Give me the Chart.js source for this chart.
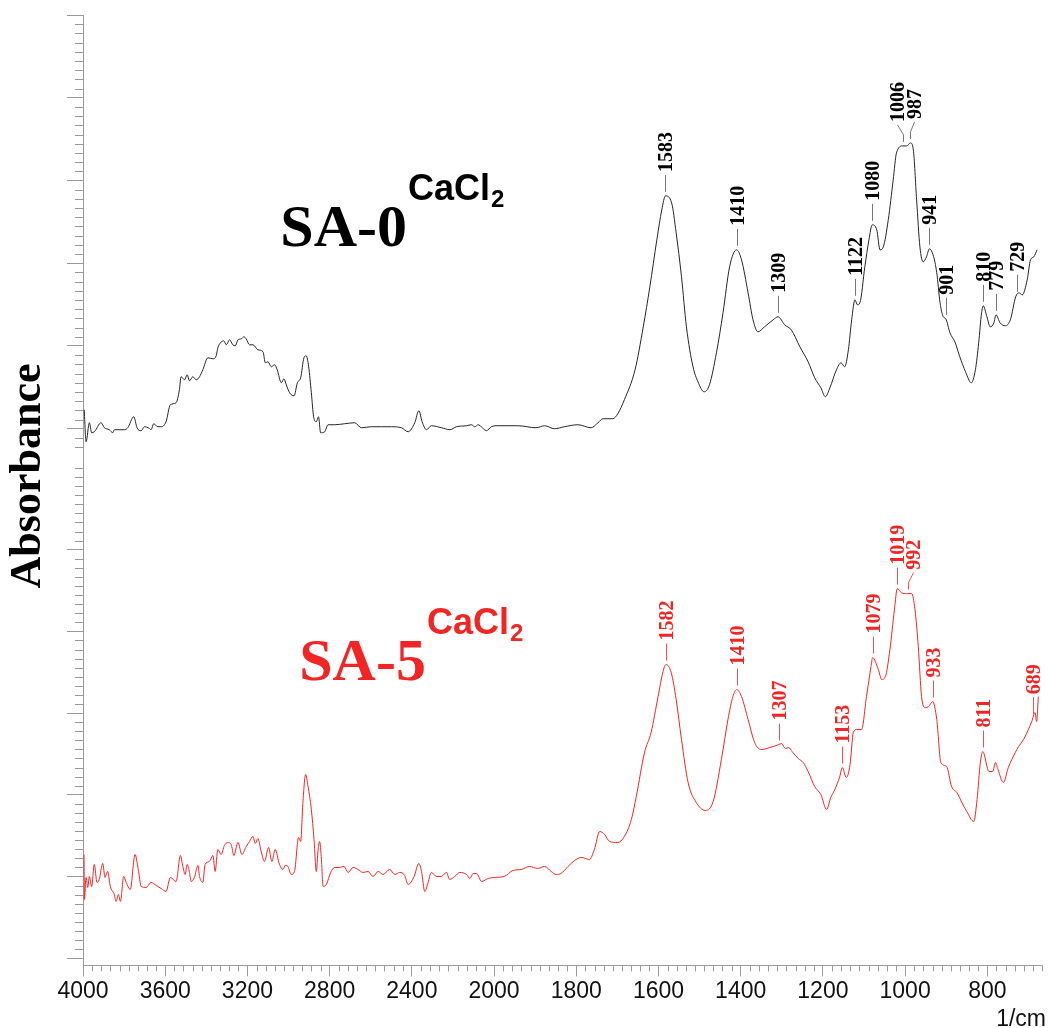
<!DOCTYPE html>
<html>
<head>
<meta charset="utf-8">
<title>FTIR SA-0 / SA-5 CaCl2</title>
<script src="https://cdn.jsdelivr.net/npm/chart.js@4.4.1/dist/chart.umd.min.js"></script>
<style>
  html, body { margin: 0; padding: 0; background: #fff; }
  canvas { display: block; }
</style>
</head>
<body>
<canvas id="ftir" width="1050" height="1028"></canvas>
<script>
// ---- spectra: wavenumber (1/cm) and absorbance (a.u.) ----
const sa0Wn = [3994, 3985, 3969, 3958, 3945, 3912, 3896, 3872, 3855, 3848, 3799, 3782, 3753, 3737, 3717, 3701, 3682, 3669, 3656, 3636,
  3620, 3596, 3575, 3547, 3531, 3523, 3506, 3493, 3482, 3466, 3449, 3433, 3417, 3392, 3368, 3352, 3344, 3331, 3315, 3303,
  3287, 3271, 3259, 3246, 3230, 3217, 3206, 3190, 3173, 3149, 3124, 3113, 3100, 3084, 3068, 3055, 3035, 3022, 3011, 2995,
  2973, 2957, 2941, 2925, 2914, 2902, 2889, 2878, 2865, 2854, 2844, 2824, 2808, 2776, 2727, 2678, 2646, 2597, 2548, 2499,
  2451, 2418, 2386, 2366, 2350, 2329, 2305, 2256, 2215, 2183, 2134, 2110, 2094, 2077, 2037, 2013, 1995, 1942, 1898, 1877,
  1853, 1829, 1796, 1764, 1747, 1735, 1711, 1699, 1683, 1657, 1637, 1621, 1604, 1592, 1583, 1568, 1557, 1544, 1532, 1516,
  1504, 1489, 1476, 1459, 1443, 1427, 1410, 1398, 1382, 1370, 1358, 1342, 1321, 1309, 1293, 1277, 1256, 1236, 1220, 1205,
  1194, 1183, 1167, 1156, 1147, 1138, 1130, 1122, 1116, 1110, 1098, 1088, 1080, 1069, 1061, 1053, 1041, 1029, 1021, 1006,
  996, 987, 980, 972, 964, 956, 948, 941, 932, 923, 915, 907, 901, 891, 879, 867, 853, 839, 829, 821,
  814, 810, 801, 793, 784, 779, 769, 756, 744, 731, 723, 715, 703, 695, 687, 679];
const sa0Abs = [0.19, -0.13, 0.06, -0.04, -0.03, 0.06, 0.01, -0.01, -0.04, -0.01, -0.01, 0.01, 0.12, 0.01, -0.02, 0.02, 0.01, -0.01, 0.05, 0.02,
  0.02, 0.07, 0.24, 0.26, 0.39, 0.52, 0.49, 0.54, 0.48, 0.52, 0.49, 0.52, 0.59, 0.71, 0.70, 0.73, 0.81, 0.86, 0.88, 0.84,
  0.89, 0.84, 0.83, 0.89, 0.90, 0.92, 0.90, 0.84, 0.84, 0.79, 0.77, 0.66, 0.67, 0.62, 0.64, 0.59, 0.46, 0.50, 0.44, 0.36,
  0.33, 0.46, 0.51, 0.71, 0.73, 0.62, 0.36, 0.12, 0.07, 0.12, -0.04, -0.03, 0.04, 0.04, 0.05, 0.06, 0.01, 0.02, 0.02, 0.02,
  0.01, -0.03, 0.06, 0.18, 0.07, -0.01, 0.03, 0.01, -0.01, 0.02, 0.03, 0.04, 0.02, 0.04, -0.02, 0.02, 0.03, 0.03, 0.01, 0.03,
  0.00, 0.02, 0.04, 0.01, 0.06, 0.10, 0.10, 0.15, 0.29, 0.59, 1.02, 1.42, 1.89, 2.19, 2.33, 2.26, 1.96, 1.52, 1.02, 0.62,
  0.47, 0.37, 0.44, 0.76, 1.16, 1.62, 1.79, 1.69, 1.36, 1.09, 0.97, 1.02, 1.09, 1.12, 1.04, 0.99, 0.82, 0.67, 0.51, 0.41,
  0.32, 0.41, 0.59, 0.66, 0.62, 0.79, 1.09, 1.29, 1.24, 1.26, 1.62, 1.89, 2.04, 1.99, 1.79, 1.82, 2.09, 2.49, 2.76, 2.83,
  2.83, 2.86, 2.79, 2.29, 1.82, 1.67, 1.72, 1.80, 1.74, 1.56, 1.26, 1.12, 1.10, 0.96, 0.87, 0.72, 0.57, 0.46, 0.59, 0.86,
  1.16, 1.23, 1.12, 1.02, 1.06, 1.14, 1.06, 1.03, 1.09, 1.32, 1.36, 1.34, 1.49, 1.69, 1.72, 1.79];

const sa5Wn = [3995, 3993, 3985, 3977, 3969, 3958, 3945, 3932, 3921, 3904, 3893, 3880, 3867, 3848, 3839, 3828, 3818, 3802, 3790, 3770,
  3747, 3731, 3717, 3693, 3669, 3644, 3620, 3596, 3575, 3547, 3526, 3514, 3503, 3493, 3482, 3474, 3458, 3441, 3433, 3417,
  3406, 3385, 3368, 3357, 3344, 3328, 3312, 3295, 3279, 3266, 3246, 3227, 3206, 3190, 3173, 3162, 3149, 3133, 3117, 3097,
  3081, 3065, 3044, 3027, 3016, 3003, 2987, 2971, 2951, 2941, 2930, 2917, 2905, 2889, 2876, 2865, 2856, 2849, 2840, 2832,
  2816, 2795, 2776, 2753, 2730, 2710, 2686, 2662, 2637, 2613, 2589, 2564, 2540, 2508, 2483, 2459, 2435, 2418, 2389, 2366,
  2353, 2337, 2321, 2305, 2280, 2256, 2232, 2216, 2191, 2167, 2134, 2118, 2101, 2085, 2061, 2028, 1999, 1975, 1954, 1934,
  1914, 1894, 1877, 1861, 1849, 1837, 1820, 1804, 1788, 1768, 1756, 1743, 1731, 1719, 1699, 1683, 1666, 1654, 1634, 1618,
  1601, 1589, 1582, 1569, 1557, 1544, 1528, 1508, 1486, 1467, 1447, 1431, 1419, 1410, 1398, 1382, 1366, 1350, 1329, 1307,
  1301, 1291, 1283, 1275, 1260, 1248, 1236, 1220, 1205, 1191, 1181, 1171, 1159, 1153, 1143, 1134, 1126, 1118, 1106, 1094,
  1083, 1079, 1065, 1057, 1048, 1037, 1026, 1019, 1009, 996, 984, 976, 968, 960, 951, 943, 933, 923, 913, 899,
  887, 874, 862, 850, 833, 825, 817, 811, 796, 787, 780, 774, 761, 749, 732, 724, 712, 700, 692, 684,
  680, 676];
const sa5Abs = [0.22, -0.23, -0.01, -0.11, 0.00, -0.10, 0.12, -0.06, -0.03, 0.13, -0.01, 0.05, -0.10, -0.18, -0.25, -0.18, -0.25, 0.00, -0.06, -0.13,
  0.22, 0.07, -0.10, -0.11, -0.06, -0.09, -0.12, -0.15, -0.01, -0.05, 0.21, 0.10, 0.02, 0.12, 0.04, -0.05, -0.01, 0.11, 0.00, -0.06,
  0.12, 0.15, 0.21, 0.05, 0.27, 0.22, 0.31, 0.34, 0.32, 0.21, 0.34, 0.22, 0.30, 0.35, 0.40, 0.33, 0.38, 0.25, 0.15, 0.29,
  0.15, 0.27, 0.12, 0.07, 0.11, 0.10, 0.02, 0.05, 0.39, 0.35, 0.74, 1.02, 0.90, 0.67, 0.37, 0.05, 0.27, 0.35, 0.17, -0.10,
  -0.08, 0.04, 0.09, 0.09, 0.10, 0.04, 0.09, 0.07, 0.04, 0.05, 0.00, 0.05, 0.02, 0.07, 0.02, 0.04, 0.01, -0.08, 0.00, 0.13,
  0.05, -0.15, -0.06, 0.04, 0.00, 0.00, 0.04, -0.03, 0.00, 0.04, 0.02, -0.02, 0.03, 0.03, -0.05, -0.02, -0.01, 0.00, 0.06, 0.07,
  0.10, 0.08, 0.10, 0.05, 0.02, 0.03, 0.10, 0.16, 0.19, 0.17, 0.27, 0.45, 0.42, 0.35, 0.34, 0.40, 0.57, 0.80, 1.24, 1.44,
  1.80, 2.05, 2.12, 2.04, 1.77, 1.37, 0.94, 0.74, 0.66, 0.75, 1.17, 1.57, 1.80, 1.87, 1.80, 1.57, 1.34, 1.27, 1.29, 1.32,
  1.33, 1.28, 1.29, 1.25, 1.18, 1.14, 1.05, 0.90, 0.82, 0.67, 0.79, 0.87, 1.00, 1.09, 0.99, 1.12, 1.44, 1.47, 1.47, 1.80,
  2.10, 2.19, 2.07, 1.97, 2.00, 2.27, 2.67, 2.88, 2.84, 2.83, 2.83, 2.67, 2.30, 1.80, 1.69, 1.70, 1.75, 1.57, 1.14, 1.10,
  0.90, 0.84, 0.74, 0.65, 0.55, 0.77, 1.14, 1.25, 1.05, 1.05, 1.14, 1.07, 0.94, 1.09, 1.24, 1.30, 1.37, 1.47, 1.55, 1.64,
  1.55, 1.80];

// labelled bands
const sa0Peaks = [1583, 1410, 1309, 1122, 1080, 1006, 987, 941, 901, 810, 779, 729];
const sa5Peaks = [1582, 1410, 1307, 1153, 1079, 1019, 992, 933, 811, 689];
// sideways nudge (px) for labels that would collide
const sa0Nudge = { 1006: -6, 987: 4 };
const sa5Nudge = { 992: 5 };

const xTicks = [4000, 3600, 3200, 2800, 2400, 2000, 1800, 1600, 1400, 1200, 1000, 800];
const X_END = 667;
const TOP_STEP = 0.828;   // major tick step, upper panel
const BOT_STEP = 0.8175;  // major tick step, lower panel

const BLACK = '#262626';
const RED = '#f22424';
const AXIS = '#9a9a9a';

// the wavenumber axis changes scale at 2000: 400 per division above, 200 below
function wnPos(w) {
  return w >= 2000 ? (4000 - w) / 400 : 5 + (2000 - w) / 200;
}
function wnFromPos(p) {
  return p <= 5 ? 4000 - p * 400 : 2000 - (p - 5) * 200;
}

class WavenumberScale extends Chart.LinearScale {
  static id = 'wavenumber';
  buildTicks() {
    return xTicks.map(v => ({ value: v }));
  }
  getPixelForValue(v) {
    return this.getPixelForDecimal(wnPos(v) / wnPos(this.min));
  }
  getValueForPixel(px) {
    return wnFromPos(this.getDecimalForPixel(px) * wnPos(this.min));
  }
}
Chart.register(WavenumberScale);

function absAt(wn, ab, w) {
  for (let i = 1; i < wn.length; i++) {
    if (wn[i] <= w) {
      const t = (wn[i - 1] - w) / (wn[i - 1] - wn[i]);
      return ab[i - 1] + t * (ab[i] - ab[i - 1]);
    }
  }
  return ab[ab.length - 1];
}

function majors(step, from, to) {
  const out = [];
  for (let k = from; k <= to; k++) out.push({ value: +(k * step).toFixed(4) });
  return out;
}

const toPoints = (wn, ab) => wn.map((w, i) => ({ x: w, y: ab[i] }));

// peak labels: short leader above the curve, rotated number on top
function drawPeaks(ctx, xs, ys, wn, ab, peaks, nudge, color, leader) {
  ctx.save();
  ctx.font = 'bold 20px "Liberation Serif", "Times New Roman", serif';
  ctx.fillStyle = color;
  ctx.strokeStyle = leader;
  ctx.lineWidth = 1;
  ctx.textAlign = 'left';
  ctx.textBaseline = 'middle';
  peaks.forEach(p => {
    const px = Math.round(xs.getPixelForValue(p)) + 0.5;
    const py = ys.getPixelForValue(absAt(wn, ab, p));
    const dx = nudge[p] || 0;
    const y0 = py - 4, y1 = y0 - 17;
    ctx.beginPath();
    ctx.moveTo(px, y0);
    if (dx) {
      ctx.lineTo(px, y0 - 7);
      ctx.lineTo(px + dx, y1);
    } else {
      ctx.lineTo(px, y1);
    }
    ctx.stroke();
    ctx.save();
    ctx.translate(px + dx, y1 - 3);
    ctx.rotate(-Math.PI / 2);
    ctx.fillText(String(p), 0, 1);
    ctx.restore();
  });
  ctx.restore();
}

// sample name with CaCl2 superscript
function drawName(ctx, x, y, name, color) {
  ctx.save();
  ctx.fillStyle = color;
  ctx.textBaseline = 'alphabetic';
  ctx.textAlign = 'left';
  ctx.font = 'bold 60px "Liberation Serif", "Times New Roman", serif';
  ctx.fillText(name, x, y);
  let cx = x + ctx.measureText(name).width + 1;
  ctx.font = 'bold 36px "Liberation Sans", Arial, sans-serif';
  ctx.fillText('CaCl', cx, y - 46);
  cx += ctx.measureText('CaCl').width;
  ctx.font = 'bold 24px "Liberation Sans", Arial, sans-serif';
  ctx.fillText('2', cx + 1, y - 39);
  ctx.restore();
}

const decorations = {
  id: 'decorations',
  afterDraw(chart) {
    const { ctx, chartArea, scales } = chart;
    const xs = scales.x, yT = scales.yTop, yB = scales.yBot;

    ctx.save();
    ctx.strokeStyle = AXIS;
    ctx.lineWidth = 1;
    ctx.beginPath();
    // minor ticks on the wavenumber axis, nine divisions per major step
    for (let k = 1; k < 45; k++) {
      if (k % 9 === 0) continue;
      const px = Math.round(xs.getPixelForValue(4000 - k * 400 / 9)) + 0.5;
      ctx.moveTo(px, chartArea.bottom);
      ctx.lineTo(px, chartArea.bottom + 6);
    }
    for (let k = 1; 2000 - k * 200 / 9 >= X_END - 1; k++) {
      if (k % 9 === 0) continue;
      const px = Math.round(xs.getPixelForValue(2000 - k * 200 / 9)) + 0.5;
      ctx.moveTo(px, chartArea.bottom);
      ctx.lineTo(px, chartArea.bottom + 6);
    }
    // minor ticks on both absorbance axes
    [[yT, TOP_STEP, -0.2, yT.max], [yB, BOT_STEP, yB.min, yB.max]].forEach(([ys, step, lo, hi]) => {
      const m = step / 9;
      for (let k = Math.ceil(lo / m); k * m <= hi + 1e-6; k++) {
        const v = k * m;
        if (k % 9 === 0 && ys.ticks.some(t => Math.abs(t.value - v) < 1e-3)) continue;
        const py = Math.round(ys.getPixelForValue(v)) + 0.5;
        ctx.moveTo(chartArea.left - 8, py);
        ctx.lineTo(chartArea.left, py);
      }
    });
    ctx.stroke();
    ctx.restore();

    drawPeaks(ctx, xs, yT, sa0Wn, sa0Abs, sa0Peaks, sa0Nudge, '#000', '#777');
    drawPeaks(ctx, xs, yB, sa5Wn, sa5Abs, sa5Peaks, sa5Nudge, RED, 'rgba(242,36,36,0.8)');

    drawName(ctx, xs.getPixelForValue(3040), yT.getPixelForValue(1.83), 'SA-0', '#000');
    drawName(ctx, xs.getPixelForValue(2948), yB.getPixelForValue(1.97), 'SA-5', RED);

    ctx.save();
    ctx.fillStyle = '#000';
    ctx.font = 'bold 44px "Liberation Serif", "Times New Roman", serif';
    ctx.textAlign = 'center';
    ctx.textBaseline = 'middle';
    ctx.translate(29, 476);
    ctx.rotate(-Math.PI / 2);
    ctx.fillText('Absorbance', 0, 0);
    ctx.restore();

    ctx.save();
    ctx.fillStyle = '#111';
    ctx.font = '23px "Liberation Sans", Arial, sans-serif';
    ctx.textAlign = 'right';
    ctx.textBaseline = 'alphabetic';
    ctx.fillText('1/cm', 1046, 1026);
    ctx.restore();
  }
};

const panelAxis = (step, lo, hi, from, to) => ({
  type: 'linear',
  position: 'left',
  stack: 'absorbance',
  stackWeight: hi - lo,
  min: lo,
  max: hi,
  afterBuildTicks: s => { s.ticks = majors(step, from, to); },
  ticks: { display: false },
  grid: { drawOnChartArea: false, tickLength: 16, color: AXIS },
  border: { color: AXIS }
});

new Chart(document.getElementById('ftir'), {
  type: 'line',
  data: {
    datasets: [
      {
        label: 'SA-0 CaCl2',
        data: toPoints(sa0Wn, sa0Abs),
        yAxisID: 'yTop',
        borderColor: BLACK,
        borderWidth: 1,
        pointRadius: 0,
        cubicInterpolationMode: 'monotone'
      },
      {
        label: 'SA-5 CaCl2',
        data: toPoints(sa5Wn, sa5Abs),
        yAxisID: 'yBot',
        borderColor: RED,
        borderWidth: 1,
        pointRadius: 0,
        cubicInterpolationMode: 'monotone'
      }
    ]
  },
  options: {
    responsive: false,
    animation: false,
    devicePixelRatio: 1,
    layout: { padding: { left: 67, right: 8, top: 15, bottom: 22 } },
    plugins: { legend: { display: false }, tooltip: { enabled: false } },
    scales: {
      x: {
        type: 'wavenumber',
        min: X_END,
        max: 4000,
        ticks: {
          autoSkip: false,
          maxRotation: 0,
          padding: 1,
          color: '#111',
          font: { family: '"Liberation Sans", Arial, sans-serif', size: 23 },
          callback: v => String(v)
        },
        grid: { drawOnChartArea: false, tickLength: 11, color: AXIS },
        border: { color: AXIS }
      },
      // declared bottom-first: later stacked axes sit higher
      yBot: panelAxis(BOT_STEP, -0.89, 4.12, -1, 4),
      yTop: panelAxis(TOP_STEP, -0.36, 4.14, 0, 5)
    }
  },
  plugins: [decorations]
});
</script>
</body>
</html>
